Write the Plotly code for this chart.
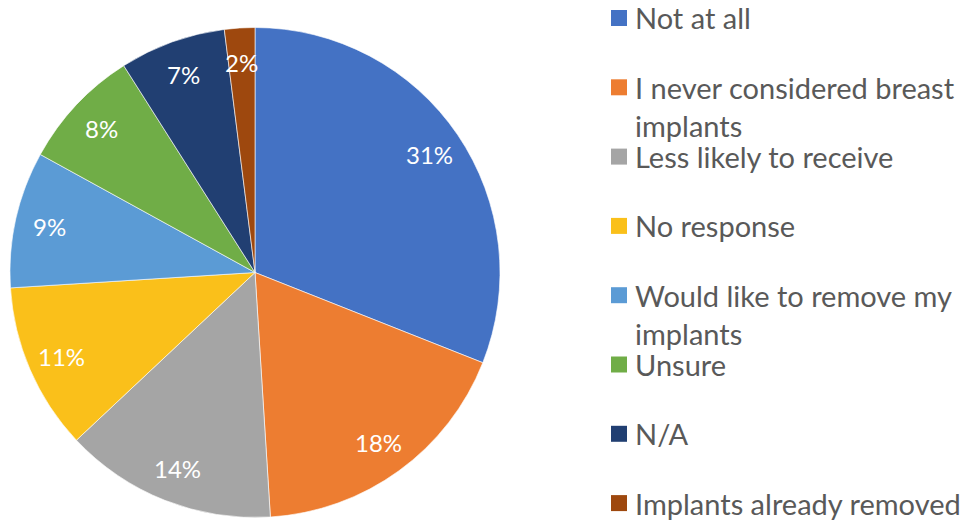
import math
import plotly.graph_objects as go

# Survey responses (percent of respondents)
categories = [
    "Not at all",
    "I never considered breast implants",
    "Less likely to receive",
    "No response",
    "Would like to remove my implants",
    "Unsure",
    "N/A",
    "Implants already removed",
]
legend_lines = [
    ["Not at all"],
    ["I never considered breast", "implants"],
    ["Less likely to receive"],
    ["No response"],
    ["Would like to remove my", "implants"],
    ["Unsure"],
    ["N/A"],
    ["Implants already removed"],
]
values = [31, 18, 14, 11, 9, 8, 7, 2]
colors = ["#4472C4", "#ED7D31", "#A5A5A5", "#FAC01A",
          "#5B9BD5", "#70AD47", "#213F72", "#9E480E"]

W, H = 968, 520
FONT = "Lato"
TEXT_GREY = "#595959"

# Pie placement in pixels
cx, cy, R = 255, 272.5, 245

fig = go.Figure(go.Pie(
    labels=categories,
    values=values,
    marker=dict(colors=colors, line=dict(color="rgba(255,255,255,0.6)", width=1)),
    sort=False,
    direction="clockwise",
    rotation=0,
    textinfo="none",
    hoverinfo="label+percent",
    showlegend=False,
    domain=dict(x=[(cx - R) / W, (cx + R) / W], y=[1 - (cy + R) / H, 1 - (cy - R) / H]),
))

annotations = []
shapes = []

# Percentage labels placed along each slice's bisector
total = sum(values)
cum = 0
for v in values:
    mid = (cum + v / 2) / total * 2 * math.pi
    cum += v
    r = R * 0.86
    x = cx + r * math.sin(mid)
    y = cy - r * math.cos(mid)
    annotations.append(dict(
        x=x / W, y=1 - y / H, xref="paper", yref="paper",
        text=f"{v}%", showarrow=False,
        font=dict(family=FONT, size=24, color="white"),
        xanchor="center", yanchor="middle",
    ))

# Legend: coloured square plus wrapped text per category
leg_x0, leg_y0, leg_step, line_step = 611, 18, 69.3, 38
for i, (lines, c) in enumerate(zip(legend_lines, colors)):
    y = leg_y0 + i * leg_step
    shapes.append(dict(
        type="rect", xref="paper", yref="paper",
        x0=leg_x0 / W, x1=(leg_x0 + 16) / W,
        y0=1 - (y + 8) / H, y1=1 - (y - 8) / H,
        fillcolor=c, line=dict(width=0),
    ))
    for j, t in enumerate(lines):
        annotations.append(dict(
            x=634 / W, y=1 - (y + j * line_step) / H, xref="paper", yref="paper",
            text=t, showarrow=False, borderpad=0,
            font=dict(family=FONT, size=29, color=TEXT_GREY),
            xanchor="left", yanchor="middle",
        ))

fig.update_layout(
    width=W, height=H,
    margin=dict(l=0, r=0, t=0, b=0),
    paper_bgcolor="white",
    plot_bgcolor="white",
    annotations=annotations,
    shapes=shapes,
)

fig.write_html("out.html")
